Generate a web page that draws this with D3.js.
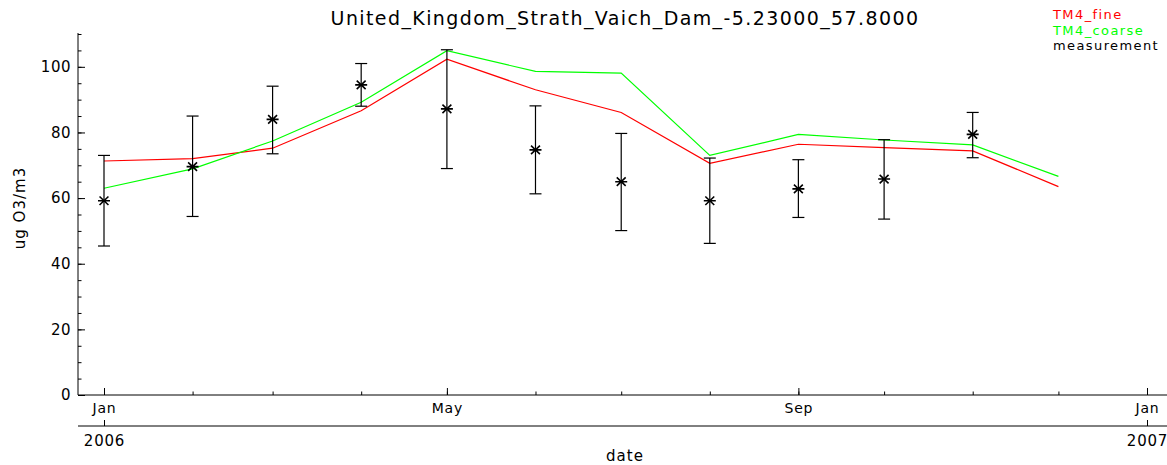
<!DOCTYPE html>
<html>
<head>
<meta charset="utf-8">
<script src="https://cdn.jsdelivr.net/npm/d3@7"></script>
<style>
  html, body { margin: 0; padding: 0; background: #fff; }
  svg { display: block; }
  text { font-family: "DejaVu Sans", sans-serif; fill: #000; }
</style>
</head>
<body>
<svg id="chart" width="1167" height="465"></svg>
<script>
// Monthly ozone at Strath Vaich Dam, 2006
const modelDates = ["2006-01-01","2006-02-01","2006-03-01","2006-04-01","2006-05-01","2006-06-01",
                    "2006-07-01","2006-08-01","2006-09-01","2006-10-01","2006-11-01","2006-12-01"];
const tm4Fine   = [71.3, 72.0, 75.2, 86.6, 102.3, 93.0, 86.1, 70.6, 76.4, 75.4, 74.4, 63.5];
const tm4Coarse = [63.0, 68.9, 77.4, 89.2, 104.9, 98.6, 98.1, 73.0, 79.4, 77.7, 76.2, 66.6];

const measDates = modelDates.slice(0, 11);
const measMean  = [59.2, 69.6, 84.0, 94.5, 87.2, 74.7, 65.0, 59.2, 62.8, 65.8, 79.4];
const measHigh  = [73.0, 85.0, 94.1, 101.0, 105.2, 88.1, 79.7, 72.2, 71.7, 77.8, 86.1];
const measLow   = [45.4, 54.4, 73.5, 88.0, 69.0, 61.3, 50.1, 46.2, 54.1, 53.6, 72.3];

const yMajorTicks = [0, 20, 40, 60, 80, 100];
const seriesNames = ["TM4_fine", "TM4_coarse", "measurement"];
const seriesColors = ["#ff0000", "#00ff00", "#000000"];

const parse = d3.utcParse("%Y-%m-%d");
const svg = d3.select("#chart");

const axisLeftX = 78, axisRightX = 1167, baseY = 395, yearAxisY = 426;
const x = d3.scaleUtc()
  .domain([parse("2006-01-01"), parse("2007-01-01")])
  .range([104, 1147]);
const y = d3.scaleLinear().domain([0, 110]).range([baseY, 34]);

// Title
svg.append("text")
  .attr("x", 625).attr("y", 25)
  .attr("text-anchor", "middle")
  .style("font-size", "19px")
  .style("letter-spacing", "1.4px")
  .text("United_Kingdom_Strath_Vaich_Dam_-5.23000_57.8000");

// Y axis: minor ticks every 5, major every 20
const yMinor = svg.append("g").attr("transform", `translate(${axisLeftX},0)`)
  .call(d3.axisLeft(y).tickValues(d3.range(0, 111, 5)).tickSize(-3.5).tickFormat(""));
yMinor.select(".domain").remove();
const yMajor = svg.append("g").attr("transform", `translate(${axisLeftX},0)`)
  .call(d3.axisLeft(y).tickValues(yMajorTicks).tickSize(-7).tickPadding(7).tickFormat(d3.format("d")));
yMajor.select(".domain").remove();
yMajor.selectAll("text").style("font-size", "15px").style("font-family", "DejaVu Sans, sans-serif")
  .style("letter-spacing", "0.5px");
svg.append("line")
  .attr("x1", axisLeftX).attr("x2", axisLeftX)
  .attr("y1", y.range()[1] - 1).attr("y2", baseY)
  .attr("stroke", "#000");

svg.append("text")
  .attr("transform", `translate(25,${208}) rotate(-90)`)
  .attr("text-anchor", "middle")
  .style("font-size", "15px")
  .style("letter-spacing", "1px")
  .text("ug O3/m3");

// X axis: months
const xMinor = svg.append("g").attr("transform", `translate(0,${baseY})`)
  .call(d3.axisBottom(x).ticks(d3.utcMonth.every(1)).tickSize(-3.5).tickFormat(""));
xMinor.select(".domain").remove();
const xMajor = svg.append("g").attr("transform", `translate(0,${baseY})`)
  .call(d3.axisBottom(x).ticks(d3.utcMonth.every(4)).tickSize(-7).tickPadding(8)
    .tickFormat(d3.utcFormat("%b")));
xMajor.select(".domain").remove();
xMajor.selectAll("text").style("font-size", "14px").style("font-family", "DejaVu Sans, sans-serif")
  .style("letter-spacing", "0.8px");
svg.append("line")
  .attr("x1", axisLeftX).attr("x2", axisRightX)
  .attr("y1", baseY).attr("y2", baseY)
  .attr("stroke", "#000");

// X axis: years
const xYear = svg.append("g").attr("transform", `translate(0,${yearAxisY})`)
  .call(d3.axisBottom(x).ticks(d3.utcYear.every(1)).tickSize(-6).tickPadding(9)
    .tickFormat(d3.utcFormat("%Y")));
xYear.select(".domain").remove();
xYear.selectAll("text").style("font-size", "15px").style("font-family", "DejaVu Sans, sans-serif")
  .style("letter-spacing", "0.8px");
svg.append("line")
  .attr("x1", axisLeftX).attr("x2", axisRightX)
  .attr("y1", yearAxisY).attr("y2", yearAxisY)
  .attr("stroke", "#000");

svg.append("text")
  .attr("x", 625).attr("y", 461)
  .attr("text-anchor", "middle")
  .style("font-size", "15px")
  .style("letter-spacing", "1px")
  .text("date");

// Model lines
const line = d3.line().x(d => x(parse(d[0]))).y(d => y(d[1]));
[tm4Fine, tm4Coarse].forEach((vals, i) => {
  svg.append("path")
    .datum(modelDates.map((d, j) => [d, vals[j]]))
    .attr("fill", "none")
    .attr("stroke", seriesColors[i])
    .attr("stroke-width", 1.2)
    .attr("d", line);
});

// Measurements with error bars and asterisk markers
const meas = measDates.map((d, i) => ({ x: x(parse(d)), m: measMean[i], hi: measHigh[i], lo: measLow[i] }));
const g = svg.append("g").attr("stroke", "#000").attr("stroke-width", 1.2).attr("fill", "none");
const cap = 6;
meas.forEach(p => {
  g.append("line").attr("x1", p.x).attr("x2", p.x).attr("y1", y(p.hi)).attr("y2", y(p.lo));
  g.append("line").attr("x1", p.x - cap).attr("x2", p.x + cap).attr("y1", y(p.hi)).attr("y2", y(p.hi));
  g.append("line").attr("x1", p.x - cap).attr("x2", p.x + cap).attr("y1", y(p.lo)).attr("y2", y(p.lo));
  const cy = y(p.m), r = 6;
  const a = r * Math.cos(Math.PI / 4) * 1.05, b = r * Math.sin(Math.PI / 4);
  g.append("path")
    .attr("stroke-width", 1.6)
    .attr("d", `M${p.x - r},${cy}H${p.x + r}` +
               `M${p.x - a},${cy - b}L${p.x + a},${cy + b}` +
               `M${p.x - a},${cy + b}L${p.x + a},${cy - b}`);
});

// Legend
seriesNames.forEach((name, i) => {
  svg.append("text")
    .attr("x", 1053).attr("y", 19 + i * 15.5)
    .style("font-size", "13px")
    .style("letter-spacing", "1.4px")
    .style("fill", seriesColors[i])
    .text(name);
});
</script>
</body>
</html>
